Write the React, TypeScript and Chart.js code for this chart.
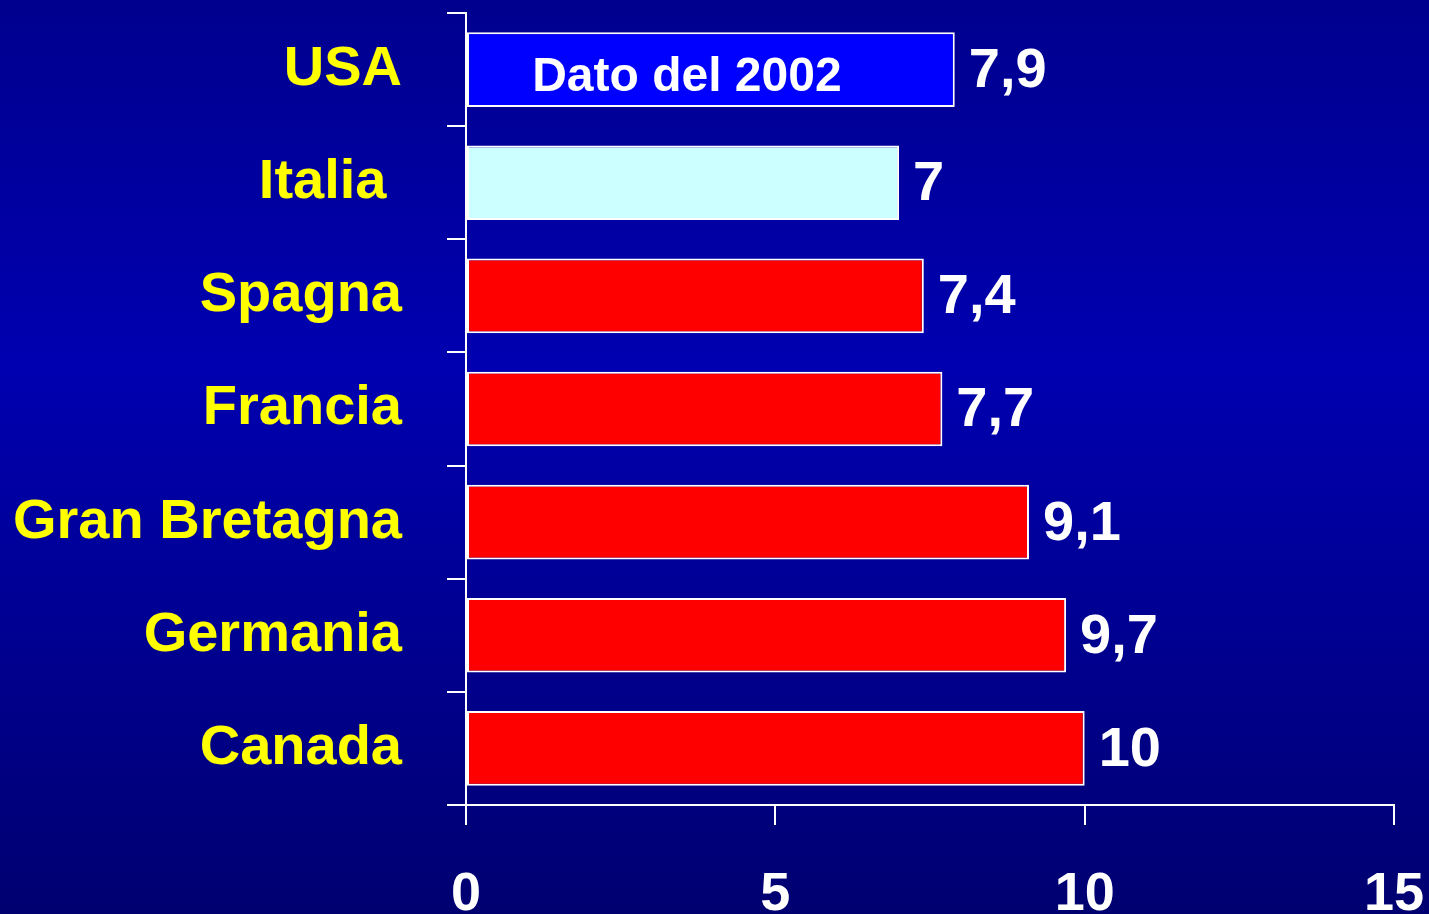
import React, { useEffect, useRef } from "react";
import { Chart, registerables } from "chart.js";

Chart.register(...registerables);

const categories = ["USA", "Italia ", "Spagna", "Francia", "Gran Bretagna", "Germania", "Canada"];
const values = [7.9, 7, 7.4, 7.7, 9.1, 9.7, 10];
const valueLabels = ["7,9", "7", "7,4", "7,7", "9,1", "9,7", "10"];
const barColors = ["#0000FF", "#CCFFFF", "#FF0000", "#FF0000", "#FF0000", "#FF0000", "#FF0000"];
const xTicks = [0, 5, 10, 15];
const noteText = "Dato del 2002";
const noteIndex = 0;
const noteX = 3.57;

const FONT = "'Liberation Sans', Arial, sans-serif";

const bgPlugin = {
  id: "bg",
  beforeDraw(chart: any) {
    const { ctx, width, height } = chart;
    const g = ctx.createLinearGradient(0, 0, 0, height);
    g.addColorStop(0, "#00008E");
    g.addColorStop(0.4, "#0000B0");
    g.addColorStop(1, "#000070");
    ctx.save();
    ctx.fillStyle = g;
    ctx.fillRect(0, 0, width, height);
    ctx.restore();
  },
};

const labelPlugin = {
  id: "valueLabels",
  afterDatasetsDraw(chart: any) {
    const { ctx } = chart;
    const meta = chart.getDatasetMeta(0);
    const xs = chart.scales.x;
    ctx.save();
    ctx.fillStyle = "#FFFFFF";
    ctx.font = `bold 56px ${FONT}`;
    ctx.textBaseline = "middle";
    ctx.textAlign = "left";
    meta.data.forEach((bar: any, i: number) => {
      ctx.fillText(valueLabels[i], bar.x + 14, bar.y + 2);
    });
    const nb = meta.data[noteIndex];
    ctx.font = `bold 48px ${FONT}`;
    ctx.textAlign = "center";
    ctx.fillText(noteText, xs.getPixelForValue(noteX), nb.y + 8);
    ctx.restore();
  },
};

export default function App() {
  const ref = useRef<HTMLCanvasElement | null>(null);
  useEffect(() => {
    if (!ref.current) return;
    const chart = new Chart(ref.current, {
      type: "bar",
      data: {
        labels: categories,
        datasets: [
          {
            data: values,
            backgroundColor: barColors,
            borderColor: "#FFFFFF",
            borderWidth: 2,
            borderSkipped: false,
            categoryPercentage: 1,
            barPercentage: 0.66,
          },
        ],
      },
      options: {
        indexAxis: "y",
        animation: false,
        responsive: false,
        maintainAspectRatio: false,
        layout: { padding: { top: 13, right: 35, left: 0, bottom: 0 } },
        plugins: { legend: { display: false }, tooltip: { enabled: false } },
        scales: {
          x: {
            type: "linear",
            min: 0,
            max: 15,
            afterBuildTicks(scale: any) {
              scale.ticks = xTicks.map((v) => ({ value: v }));
            },
            afterFit(scale: any) {
              scale.height = 109;
              scale.paddingLeft = 0;
              scale.paddingRight = 0;
            },
            ticks: {
              color: "#FFFFFF",
              font: { family: FONT, size: 54, weight: "bold" },
              padding: 38,
              maxRotation: 0,
            },
            grid: {
              drawOnChartArea: false,
              drawTicks: true,
              tickLength: 20,
              color: "#FFFFFF",
              lineWidth: 2,
            },
            border: { color: "#FFFFFF", width: 2 },
          },
          y: {
            type: "category",
            offset: true,
            afterFit(scale: any) {
              scale.width = 466;
              scale.paddingTop = 0;
              scale.paddingBottom = 0;
            },
            ticks: {
              color: "#FFFF00",
              font: { family: FONT, size: 56, weight: "bold" },
              padding: 45,
            },
            grid: {
              offset: true,
              drawOnChartArea: false,
              drawTicks: true,
              tickLength: 19,
              color: "#FFFFFF",
              lineWidth: 2,
            },
            border: { color: "#FFFFFF", width: 2 },
          },
        },
      },
      plugins: [bgPlugin, labelPlugin],
    } as any);
    return () => chart.destroy();
  }, []);
  return (
    <div style={{ position: "fixed", left: 0, top: 0, width: 1429, height: 914, overflow: "hidden" }}>
      <canvas ref={ref} width={1429} height={914} style={{ display: "block", width: 1429, height: 914 }} />
    </div>
  );
}
